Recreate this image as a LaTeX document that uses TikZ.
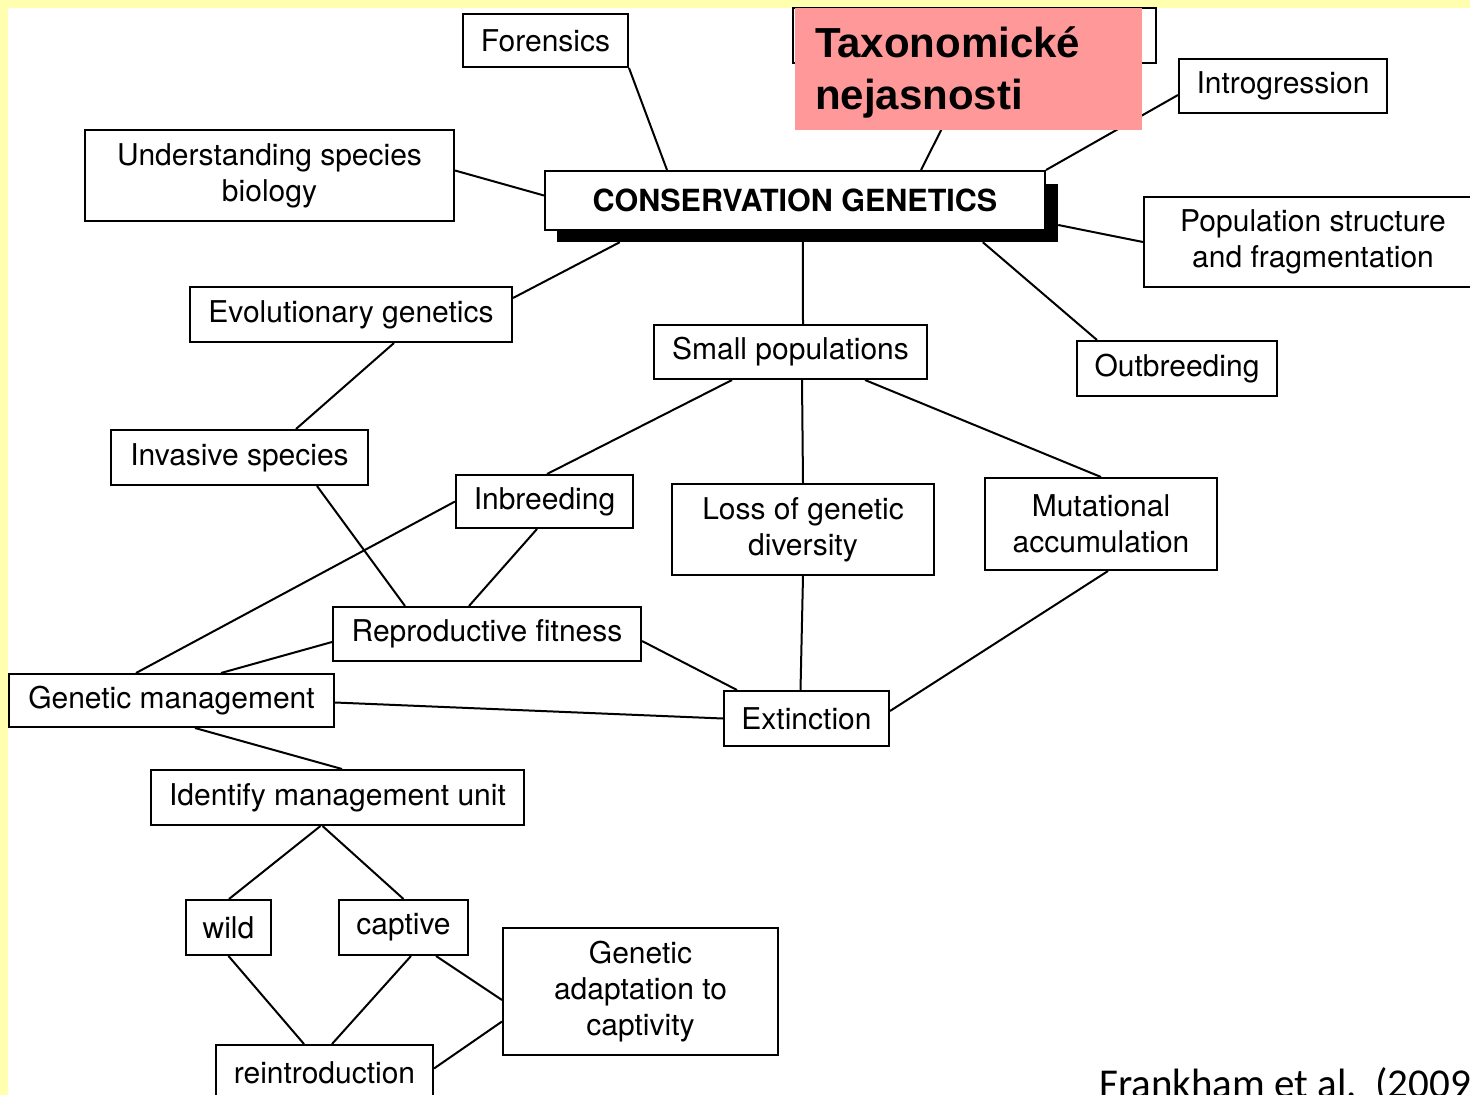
\documentclass[tikz,border=0pt]{standalone}
\usepackage{fontspec}
\setmainfont{TeX Gyre Heros}
\newfontfamily\arialfont{Liberation Sans}
\newfontfamily\calibrifont{Carlito}
\usepackage{tikz}

\definecolor{slideYellow}{RGB}{255,255,175}
\definecolor{notePink}{RGB}{255,153,153}

\begin{document}
\begin{tikzpicture}[
	x=1pt, y=-1pt,
	box/.style={draw, line width=2pt, fill=white, inner sep=0pt, align=center,
		font=\fontsize{30}{36}\selectfont},
	link/.style={line width=2pt},
	note/.style={fill=notePink, inner xsep=20pt, inner ysep=0pt, align=left,
		font=\arialfont\bfseries\fontsize{42}{52}\selectfont}
]
\useasboundingbox (0, 0) rectangle (1470, 1095);
\clip (0, 0) rectangle (1470, 1095);
\fill[slideYellow] (0, 0) rectangle (1470, 1095);
\fill[white] (8, 8) rectangle (1470, 1095);

% Centre
\node [fill=black, minimum width=501pt, minimum height=58pt] (cgsh) at (807.5, 213) {};
\node [box, minimum width=500pt, minimum height=59pt, font=\bfseries\fontsize{30.5}{36}\selectfont] (cg) at (795, 200.5) {CONSERVATION GENETICS};

% Top row
\node [box, minimum width=165pt, minimum height=53pt] (forensics) at (545.5, 40.5) {Forensics};
\node [box, minimum width=363pt, minimum height=55pt] (taxbox) at (974.5, 35.5) {};
\node [box, minimum width=208pt, minimum height=54pt] (intro) at (1283, 86) {Introgression};
\node [box, minimum width=369pt, minimum height=91pt] (understand) at (269.5, 175.5) {Understanding species\\biology};
\node [box, minimum width=338pt, minimum height=90pt] (popstruct) at (1313, 242) {Population structure\\and fragmentation};
\node [box, minimum width=322pt, minimum height=55pt] (evol) at (351, 314.5) {Evolutionary genetics};
\node [box, minimum width=273pt, minimum height=54pt] (small) at (790.5, 352) {Small populations};
\node [box, minimum width=200pt, minimum height=55pt] (outbr) at (1177, 368.5) {Outbreeding};

% Middle
\node [box, minimum width=257pt, minimum height=55pt] (invasive) at (239.5, 457.5) {Invasive species};
\node [box, minimum width=177pt, minimum height=53pt] (inbreed) at (544.5, 501.5) {Inbreeding};
\node [box, minimum width=262pt, minimum height=91pt] (loss) at (803, 529.5) {Loss of genetic\\diversity};
\node [box, minimum width=232pt, minimum height=92pt] (mutat) at (1101, 524) {Mutational\\accumulation};
\node [box, minimum width=308pt, minimum height=54pt] (repro) at (487, 634) {Reproductive fitness};
\node [box, minimum width=325pt, minimum height=53pt] (genman) at (171.5, 700.5) {Genetic management};
\node [box, minimum width=165pt, minimum height=55pt] (extinct) at (806.5, 718.5) {Extinction};

% Management
\node [box, minimum width=373pt, minimum height=55pt] (identify) at (337.5, 797.5) {Identify management unit};
\node [box, minimum width=85pt, minimum height=55pt] (wild) at (228.5, 927.5) {wild};
\node [box, minimum width=129pt, minimum height=55pt] (captive) at (403.5, 927.5) {captive};
\node [box, minimum width=275pt, minimum height=127pt] (adapt) at (640.5, 991.5) {Genetic\\adaptation to\\captivity};
\node [box, minimum width=217pt, minimum height=55pt] (reintro) at (324.5, 1072.5) {reintroduction};

% Links
\draw[link] (forensics.south east) -- ([xshift=123pt]cg.north west);
\draw[link] ([xshift=377pt]cg.north west) -- (taxbox.south);
\draw[link] (cg.north east) -- ([yshift=-9pt]intro.west);
\draw[link] ([yshift=5pt]understand.east) -- ([yshift=5pt]cg.west);
\draw[link] ([yshift=-12pt]cgsh.east) -- (popstruct.west);
\draw[link] ([xshift=63pt]cgsh.south west) -- ([yshift=-12pt]evol.north east);
\draw[link] ([xshift=246pt]cgsh.south west) -- ([xshift=12.5pt]small.north);
\draw[link] ([xshift=426pt]cgsh.south west) -- ([xshift=21pt]outbr.north west);
\draw[link] ([xshift=205pt]evol.south west) -- ([xshift=186pt]invasive.north west);
\draw[link] ([xshift=79pt]small.south west) -- ([xshift=92pt]inbreed.north west);
\draw[link] ([xshift=149pt]small.south west) -- (loss.north);
\draw[link] ([xshift=212pt]small.south west) -- (mutat.north);
\draw[link] ([xshift=207pt]invasive.south west) -- ([xshift=73pt]repro.north west);
\draw[link] (inbreed.west) -- ([xshift=128pt]genman.north west);
\draw[link] ([xshift=82pt]inbreed.south west) -- ([xshift=137pt]repro.north west);
\draw[link] (loss.south) -- ([xshift=-6pt]extinct.north);
\draw[link] ([xshift=7pt]mutat.south) -- ([yshift=7.5pt]extinct.east);
\draw[link] ([yshift=-7pt]repro.east) -- ([xshift=14pt]extinct.north west);
\draw[link] ([yshift=-8pt]repro.west) -- ([xshift=213pt]genman.north west);
\draw[link] ([yshift=-2pt]genman.east) -- (extinct.west);
\draw[link] ([xshift=187pt]genman.south west) -- ([xshift=192pt]identify.north west);
\draw[link] ([xshift=-17pt]identify.south) -- ([xshift=44pt]wild.north west);
\draw[link] ([xshift=-15pt]identify.south) -- (captive.north);
\draw[link] (wild.south) -- ([xshift=89pt]reintro.north west);
\draw[link] ([xshift=73pt]captive.south west) -- ([xshift=117pt]reintro.north west);
\draw[link] ([xshift=98pt]captive.south west) -- ([yshift=-8.5pt]adapt.west);
\draw[link] ([yshift=4pt]reintro.east) -- ([yshift=-30pt]adapt.west);

% Note on top
\node [note, text width=307pt, minimum height=122pt] (taxon) at (968.5, 69) {\rule{0pt}{38pt}Taxonomické\\nejasnosti};

\node [anchor=base west, inner sep=0pt, font=\calibrifont\fontsize{41}{48}\selectfont] (source) at (1099, 1097) {Frankham et al.\hspace{6pt} (2009)};
\end{tikzpicture}
\end{document}
